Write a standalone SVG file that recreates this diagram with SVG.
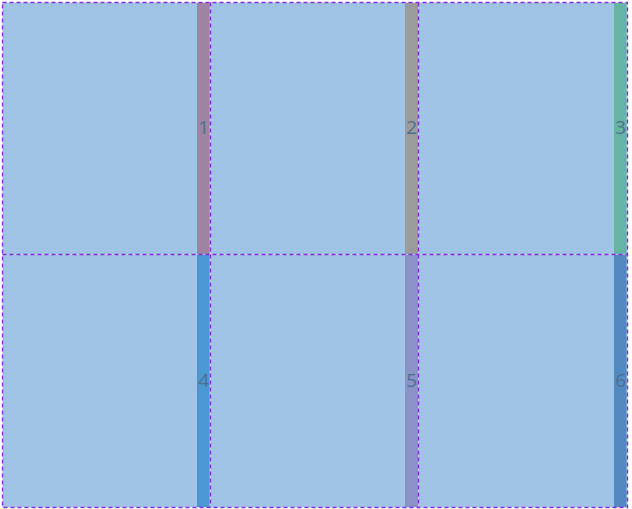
<svg xmlns="http://www.w3.org/2000/svg" width="632" height="509" viewBox="0 0 632 509">
<style>
.cell{fill:#a0c4e6}
.num{font-family:"Open Sans","Noto Sans",sans-serif;font-size:19px;fill:#4f6f8f;text-anchor:end}
.grid{fill:none;stroke:#8a2be2;stroke-width:1.4;stroke-dasharray:4,3}
</style>
<rect x="0" y="0" width="632" height="509" fill="#ffffff"/>
<g id="cell1"><rect class="cell" x="2.5" y="2.5" width="208" height="252"/><rect x="197" y="3" width="12.5" height="251.5" fill="#9e84a2"/><text class="num" x="209" y="134">1</text></g>
<g id="cell2"><rect class="cell" x="210.5" y="2.5" width="208" height="252"/><rect x="405" y="3" width="13" height="251.5" fill="#9b9b9b"/><text class="num" x="417" y="134">2</text></g>
<g id="cell3"><rect class="cell" x="418.5" y="2.5" width="209" height="252"/><rect x="614" y="3" width="12.5" height="251.5" fill="#66b5a4"/><text class="num" x="626" y="134">3</text></g>
<g id="cell4"><rect class="cell" x="2.5" y="254.5" width="208" height="253"/><rect x="197" y="255" width="12.5" height="252" fill="#4b97d3"/><text class="num" x="209" y="387">4</text></g>
<g id="cell5"><rect class="cell" x="210.5" y="254.5" width="208" height="253"/><rect x="405" y="255" width="13" height="252" fill="#8b92c8"/><text class="num" x="417" y="387">5</text></g>
<g id="cell6"><rect class="cell" x="418.5" y="254.5" width="209" height="253"/><rect x="614" y="255" width="12.5" height="252" fill="#5289c0"/><text class="num" x="626" y="387">6</text></g>
<g id="connectors">
<rect class="grid" x="2.5" y="2.5" width="625" height="505"/>
<line class="grid" x1="210.5" y1="2.5" x2="210.5" y2="507.5"/>
<line class="grid" x1="418.5" y1="2.5" x2="418.5" y2="507.5"/>
<line class="grid" x1="2.5" y1="254.5" x2="627.5" y2="254.5"/>
</g>
</svg>
